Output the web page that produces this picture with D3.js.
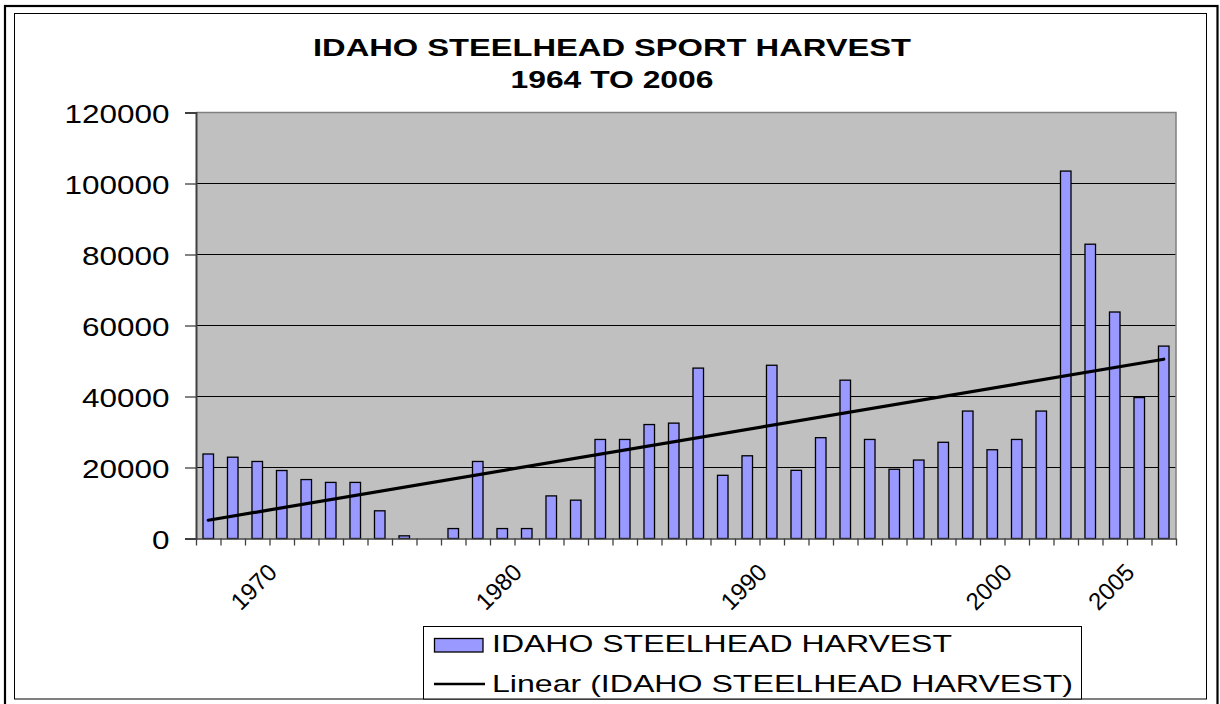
<!DOCTYPE html>
<html>
<head>
<meta charset="utf-8">
<script src="https://cdn.jsdelivr.net/npm/d3@7"></script>
<style>
  html, body { margin: 0; padding: 0; background: #ffffff; }
  svg { display: block; font-family: "Liberation Sans", Arial, sans-serif; }
</style>
</head>
<body>
<svg id="chart" width="1220" height="704"></svg>
<script>
// ---- data ----
const years = d3.range(1967, 2007).map(String);
const harvest = [
  23800, 22900, 21700, 19150, 16600, 15800, 15800, 7800, 750, 0,
  2800, 21700, 2800, 2800, 12000, 10800, 27900, 27900, 32100, 32500,
  48000, 17800, 23300, 48800, 19200, 28400, 44600, 27900, 19500, 22100,
  27100, 35900, 25000, 27900, 35900, 103500, 82900, 63800, 39700, 54200
];
const shownYearLabels = ["1970", "1980", "1990", "2000", "2005"];
const yTickValues = [0, 20000, 40000, 60000, 80000, 100000, 120000];
const titleLines = ["IDAHO STEELHEAD SPORT HARVEST", "1964 TO 2006"];
const legendLabels = ["IDAHO STEELHEAD HARVEST", "Linear (IDAHO STEELHEAD HARVEST)"];

// ---- layout ----
const svg = d3.select("#chart");
const X0 = 196, X1 = 1176, YT = 112.5, YB = 538.5;

const x = d3.scaleBand().domain(years).range([X0, X1]).paddingInner(0.57).paddingOuter(0.285);
const xEdge = d3.scaleLinear().domain([0, years.length]).range([X0, X1]);
const y = d3.scaleLinear().domain([0, 120000]).range([YB, YT]);

// outer frames
svg.append("rect").attr("x", 5).attr("y", 6).attr("width", 1212.5).attr("height", 704)
  .attr("fill", "#fff").attr("stroke", "#000").attr("stroke-width", 2.2);
svg.append("rect").attr("x", 14.5).attr("y", 13.5).attr("width", 1192).attr("height", 685.5)
  .attr("fill", "#fff").attr("stroke", "#000").attr("stroke-width", 1);

// title
const tWidths = [598, 203];
const tBase = [56, 88.3];
titleLines.forEach((t, i) => {
  svg.append("text").attr("x", 612).attr("y", tBase[i])
    .attr("text-anchor", "middle").attr("font-weight", "bold").attr("font-size", 24.5)
    .attr("textLength", tWidths[i]).attr("lengthAdjust", "spacingAndGlyphs")
    .attr("fill", "#000").text(t);
});

// plot background
svg.append("rect").attr("x", X0).attr("y", YT).attr("width", X1 - X0).attr("height", YB - YT)
  .attr("fill", "#C0C0C0");

// gridlines
svg.append("g").selectAll("line").data(yTickValues.filter(v => v > 0 && v < 120000)).join("line")
  .attr("x1", X0).attr("x2", X1).attr("y1", d => y(d)).attr("y2", d => y(d))
  .attr("stroke", "#000").attr("stroke-width", 1);

// plot border top/right
svg.append("path").attr("d", `M${X0},${YT}H${X1}V${YB}`).attr("fill", "none")
  .attr("stroke", "#808080").attr("stroke-width", 1.5);

// bars
svg.append("g").selectAll("rect").data(harvest.map((v, i) => ({ year: years[i], v }))).join("rect")
  .filter(d => d.v > 0)
  .attr("x", d => x(d.year)).attr("width", x.bandwidth())
  .attr("y", d => y(d.v)).attr("height", d => YB - y(d.v))
  .attr("fill", "#9999FF").attr("stroke", "#000").attr("stroke-width", 1.3);

// linear trend (least squares over category index)
const n = harvest.length;
const xs = d3.range(1, n + 1);
const mx = d3.mean(xs), my = d3.mean(harvest);
const slope = d3.sum(xs, (xi, i) => (xi - mx) * (harvest[i] - my)) / d3.sum(xs, xi => (xi - mx) ** 2);
const intercept = my - slope * mx;
const trendPts = [0, n - 1].map(i => [x(years[i]) + x.bandwidth() / 2, y(intercept + slope * (i + 1))]);
svg.append("path").attr("d", d3.line()(trendPts)).attr("stroke", "#000")
  .attr("stroke-width", 3.2).attr("fill", "none").attr("stroke-linecap", "round");

// y axis
const yAxis = svg.append("g").attr("transform", `translate(${X0},0)`)
  .call(d3.axisLeft(y).tickValues(yTickValues).tickSize(11).tickFormat(""));
yAxis.select(".domain").attr("stroke", "#404040").attr("stroke-width", 2);
yAxis.selectAll(".tick line").attr("stroke", "#404040").attr("stroke-width", 1.3);
svg.append("g").selectAll("text").data(yTickValues).join("text")
  .attr("x", 169.5).attr("y", d => y(d) + 10.5)
  .attr("text-anchor", "end").attr("font-size", 25).attr("fill", "#000")
  .attr("textLength", d => String(d).length * 17.5).attr("lengthAdjust", "spacingAndGlyphs")
  .text(d => String(d));

// x axis
const xAxis = svg.append("g").attr("transform", `translate(0,${YB})`)
  .call(d3.axisBottom(xEdge).tickValues(d3.range(0, n + 1)).tickSize(7).tickSizeOuter(0).tickFormat(""));
xAxis.select(".domain").attr("stroke", "#404040").attr("stroke-width", 1.5);
xAxis.selectAll(".tick line").attr("stroke", "#404040").attr("stroke-width", 1.3);
svg.append("g").selectAll("text").data(shownYearLabels).join("text")
  .attr("transform", d => `translate(${x(d) + x.bandwidth() / 2 - 15.5},561.5) rotate(-45)`)
  .attr("text-anchor", "end").attr("dy", "0.72em").attr("font-size", 24).attr("fill", "#000")
  .text(d => d);

// legend
const lg = svg.append("g");
lg.append("rect").attr("x", 423.5).attr("y", 626.5).attr("width", 658).attr("height", 72.5)
  .attr("fill", "#fff").attr("stroke", "#000").attr("stroke-width", 1);
lg.append("rect").attr("x", 434.5).attr("y", 638.5).attr("width", 48.5).attr("height", 13.5)
  .attr("fill", "#9999FF").attr("stroke", "#000").attr("stroke-width", 1.3);
lg.append("line").attr("x1", 434).attr("x2", 485).attr("y1", 684).attr("y2", 684)
  .attr("stroke", "#000").attr("stroke-width", 2.5);
const lWidths = [460, 581];
const lBase = [651.7, 691.7];
legendLabels.forEach((t, i) => {
  lg.append("text").attr("x", 492).attr("y", lBase[i]).attr("font-size", 24).attr("fill", "#000")
    .attr("textLength", lWidths[i]).attr("lengthAdjust", "spacingAndGlyphs").text(t);
});
</script>
</body>
</html>
